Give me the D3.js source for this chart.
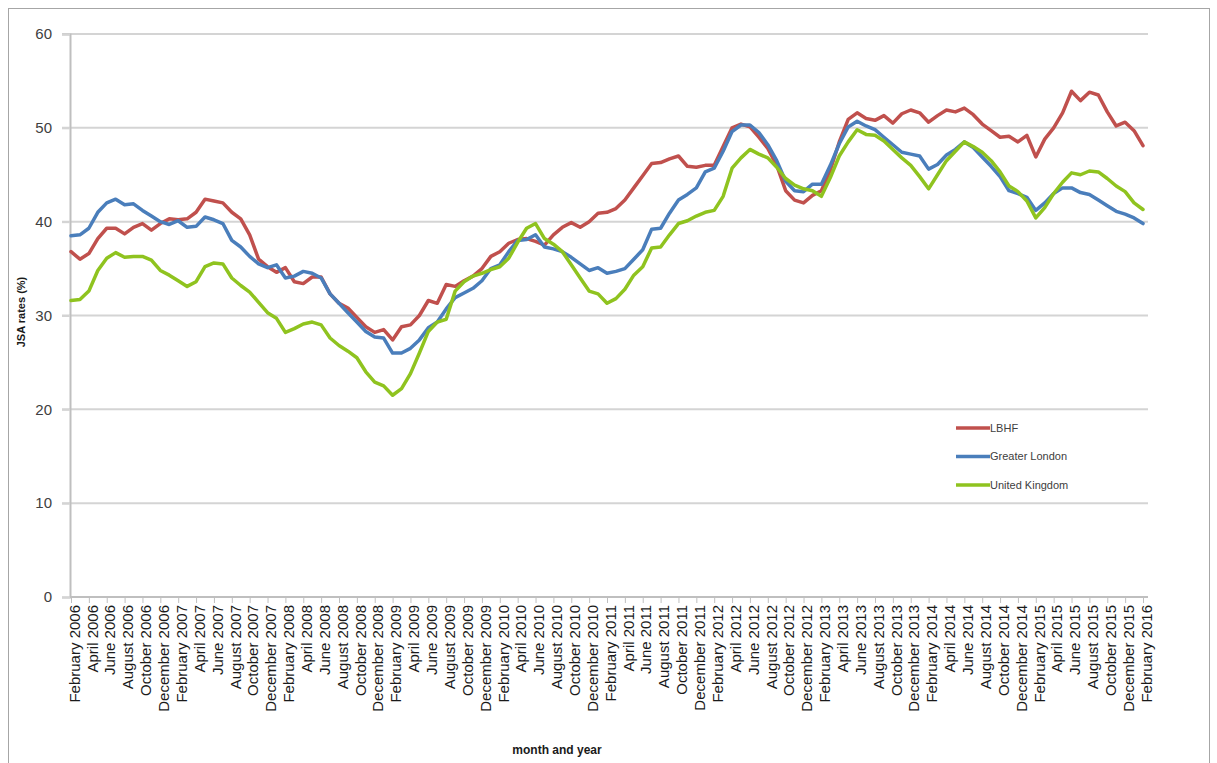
<!DOCTYPE html>
<html><head><meta charset="utf-8">
<script src="https://cdn.jsdelivr.net/npm/d3@7"></script>
<style>
body{margin:0;background:#fff;}
svg{display:block;font-family:"Liberation Sans",Arial,sans-serif;}
</style></head>
<body><svg id="c" width="1217" height="763"></svg>
<script>
const categories = [
"February 2006","March 2006","April 2006","May 2006","June 2006","July 2006","August 2006","September 2006","October 2006","November 2006","December 2006",
"January 2007","February 2007","March 2007","April 2007","May 2007","June 2007","July 2007","August 2007","September 2007","October 2007","November 2007","December 2007",
"January 2008","February 2008","March 2008","April 2008","May 2008","June 2008","July 2008","August 2008","September 2008","October 2008","November 2008","December 2008",
"January 2009","February 2009","March 2009","April 2009","May 2009","June 2009","July 2009","August 2009","September 2009","October 2009","November 2009","December 2009",
"January 2010","February 2010","March 2010","April 2010","May 2010","June 2010","July 2010","August 2010","September 2010","October 2010","November 2010","December 2010",
"January 2011","February 2011","March 2011","April 2011","May 2011","June 2011","July 2011","August 2011","September 2011","October 2011","November 2011","December 2011",
"January 2012","February 2012","March 2012","April 2012","May 2012","June 2012","July 2012","August 2012","September 2012","October 2012","November 2012","December 2012",
"January 2013","February 2013","March 2013","April 2013","May 2013","June 2013","July 2013","August 2013","September 2013","October 2013","November 2013","December 2013",
"January 2014","February 2014","March 2014","April 2014","May 2014","June 2014","July 2014","August 2014","September 2014","October 2014","November 2014","December 2014",
"January 2015","February 2015","March 2015","April 2015","May 2015","June 2015","July 2015","August 2015","September 2015","October 2015","November 2015","December 2015",
"January 2016","February 2016"];

const lbhf = [
36.8,36.0,36.6,38.2,39.3,39.3,38.7,39.4,39.8,39.1,39.8,40.3,40.2,40.3,41.0,42.4,42.2,42.0,41.0,40.3,
38.6,36.0,35.2,34.6,35.1,33.6,33.4,34.1,34.1,32.3,31.3,30.8,29.8,28.8,28.2,28.5,27.4,28.8,29.0,30.0,
31.6,31.3,33.3,33.1,33.7,34.2,35.0,36.3,36.8,37.7,38.1,38.2,37.9,37.5,38.6,39.4,39.9,39.4,40.0,40.9,
41.0,41.4,42.3,43.6,44.9,46.2,46.3,46.7,47.0,45.9,45.8,46.0,46.0,48.0,50.0,50.4,50.1,49.0,47.8,46.0,
43.3,42.3,42.0,42.8,43.3,45.5,48.5,50.9,51.6,51.0,50.8,51.3,50.5,51.5,51.9,51.6,50.6,51.3,51.9,51.7,
52.1,51.4,50.4,49.7,49.0,49.1,48.5,49.2,46.9,48.8,50.0,51.6,53.9,52.9,53.8,53.5,51.7,50.2,50.6,49.7,
48.1];

const greaterLondon = [
38.5,38.6,39.3,41.0,42.0,42.4,41.8,41.9,41.2,40.6,40.0,39.7,40.1,39.4,39.5,40.5,40.2,39.8,38.0,37.3,
36.3,35.5,35.1,35.4,34.0,34.2,34.7,34.5,34.0,32.3,31.3,30.3,29.3,28.3,27.7,27.6,26.0,26.0,26.5,27.4,
28.7,29.3,30.7,31.9,32.4,32.9,33.7,35.0,35.4,36.8,38.0,38.1,38.6,37.3,37.1,36.8,36.2,35.5,34.8,35.1,
34.5,34.7,35.0,36.0,37.0,39.2,39.3,40.9,42.3,42.9,43.6,45.3,45.7,47.5,49.6,50.3,50.3,49.5,48.2,46.5,
44.3,43.3,43.2,44.0,44.0,46.0,48.3,50.1,50.7,50.2,49.8,49.0,48.2,47.4,47.2,47.0,45.6,46.1,47.1,47.7,
48.5,47.9,46.9,45.9,44.8,43.3,43.0,42.6,41.2,42.0,43.0,43.6,43.6,43.1,42.9,42.3,41.7,41.1,40.8,40.4,
39.8];

const unitedKingdom = [
31.6,31.7,32.6,34.8,36.1,36.7,36.2,36.3,36.3,35.9,34.8,34.3,33.7,33.1,33.6,35.2,35.6,35.5,34.0,33.2,
32.5,31.4,30.3,29.7,28.2,28.6,29.1,29.3,29.0,27.6,26.8,26.2,25.5,24.0,22.9,22.5,21.5,22.2,23.8,26.0,
28.3,29.3,29.6,32.6,33.6,34.2,34.5,34.9,35.2,36.1,37.8,39.3,39.8,38.2,37.6,36.8,35.4,34.0,32.6,32.3,
31.3,31.8,32.8,34.3,35.2,37.2,37.3,38.6,39.8,40.1,40.6,41.0,41.2,42.7,45.7,46.8,47.7,47.2,46.8,45.8,
44.6,43.9,43.5,43.3,42.7,44.7,47.0,48.5,49.8,49.3,49.2,48.6,47.7,46.8,46.0,44.8,43.5,45.0,46.5,47.5,
48.5,48.0,47.4,46.5,45.3,43.8,43.2,42.2,40.4,41.5,43.0,44.2,45.2,45.0,45.4,45.3,44.6,43.8,43.2,42.0,
41.3];

const tickLabels = categories.filter((d,i)=>i%2===0);
const yTicks = [0,10,20,30,40,50,60];
const seriesNames = ["LBHF","Greater London","United Kingdom"];
const seriesColors = ["#c0504d","#4a7ebb","#8fc31f"];
const seriesValues = [lbhf, greaterLondon, unitedKingdom];

const svg = d3.select("#c");
const plotLeft = 71, plotRight = 1143, plotTop = 34, plotBottom = 597;

// outer frame
svg.append("rect").attr("x",8.5).attr("y",8.5).attr("width",1201).attr("height",770)
  .attr("fill","none").attr("stroke","#a6a6a6").attr("stroke-width",1);

const x = d3.scalePoint().domain(categories).range([plotLeft,plotRight]);
const y = d3.scaleLinear().domain([0,60]).range([plotBottom,plotTop]);

// gridlines
svg.append("g").selectAll("line").data(yTicks.filter(d=>d>0)).join("line")
  .attr("x1",62).attr("x2",1148).attr("y1",d=>y(d)).attr("y2",d=>y(d))
  .attr("stroke","#d4d4d4").attr("stroke-width",2);

// y axis
const yAxis = svg.append("g").attr("transform","translate(70,0)")
  .call(d3.axisLeft(y).tickValues(yTicks).tickSize(8).tickPadding(10).tickFormat(d3.format("d")));
yAxis.select(".domain").attr("stroke","#bfbfbf").attr("stroke-width",2);
yAxis.selectAll(".tick line").attr("stroke","#d4d4d4").attr("stroke-width",2);
yAxis.selectAll("text").attr("font-size",15).attr("fill","#404040");

// x axis
const xAxis = svg.append("g").attr("transform",`translate(0,${plotBottom})`)
  .call(d3.axisBottom(x).tickValues(tickLabels).tickSize(6).tickPadding(8));
xAxis.select(".domain").attr("d",`M70,0H1148`).attr("stroke","#bfbfbf").attr("stroke-width",2);
xAxis.selectAll(".tick line").attr("stroke","#bfbfbf").attr("stroke-width",1);
xAxis.selectAll("text")
  .attr("transform","rotate(-90)")
  .attr("text-anchor","end")
  .attr("x",-8).attr("y",3).attr("dy","0.35em")
  .attr("font-size",15).attr("fill","#1a1a1a");

// lines
const line = d3.line().x((d,i)=>x(categories[i])).y(d=>y(d));
seriesValues.forEach((vals,k)=>{
  svg.append("path").datum(vals).attr("d",line)
    .attr("fill","none").attr("stroke",seriesColors[k]).attr("stroke-width",3.5)
    .attr("stroke-linejoin","round").attr("stroke-linecap","round");
});

// axis titles
svg.append("text").attr("transform","translate(25,312) rotate(-90)")
  .attr("text-anchor","middle").attr("font-size",11).attr("font-weight","bold")
  .attr("fill","#1a1a1a").text("JSA rates (%)");
svg.append("text").attr("x",557).attr("y",754)
  .attr("text-anchor","middle").attr("font-size",12).attr("font-weight","bold")
  .attr("fill","#1a1a1a").text("month and year");

// legend
const lg = svg.append("g");
seriesNames.forEach((n,k)=>{
  const yy = 428 + k*28.5;
  lg.append("line").attr("x1",956).attr("x2",990).attr("y1",yy).attr("y2",yy)
    .attr("stroke",seriesColors[k]).attr("stroke-width",3.5);
  lg.append("text").attr("x",990).attr("y",yy).attr("dy","0.35em")
    .attr("font-size",11).attr("fill","#404040").text(n);
});
</script>
</body></html>
